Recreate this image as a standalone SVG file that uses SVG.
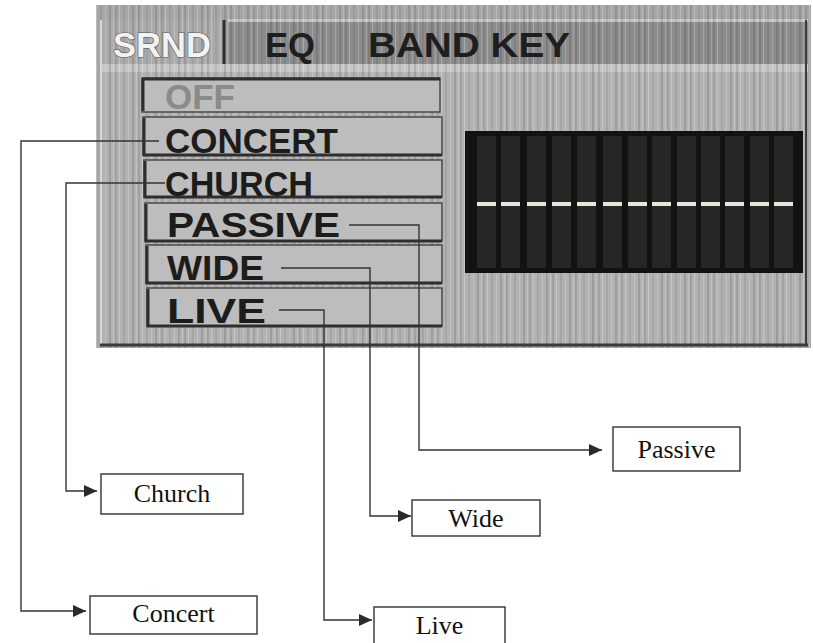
<svg xmlns="http://www.w3.org/2000/svg" width="813" height="643" viewBox="0 0 813 643">
<defs>
<style>
.btn{fill:#bdbdbd;stroke:#4a4a4a;stroke-width:1.5}
.btnedge{fill:none;stroke:#2e2e2e;stroke-width:3}
.mtxt{font-family:"Liberation Sans",Arial,sans-serif;font-weight:bold;font-size:35px;fill:#1c1c1c}
.tab{font-family:"Liberation Sans",Arial,sans-serif;font-weight:bold;font-size:35px}
.col{fill:#262626}
.dash{fill:#e6e6da}
.conn{fill:none;stroke:#333;stroke-width:1.4}
.box{fill:#fff;stroke:#333;stroke-width:1.4}
.lbl{font-family:"Liberation Serif","Times New Roman",serif;font-size:26px;fill:#111;text-anchor:middle}
</style>
<pattern id="stripes" x="0" y="0" width="23" height="10" patternUnits="userSpaceOnUse">
<rect x="0" y="0" width="2" height="10" fill="#000" opacity="0.10"/>
<rect x="4" y="0" width="1" height="10" fill="#fff" opacity="0.25"/>
<rect x="8" y="0" width="2" height="10" fill="#000" opacity="0.07"/>
<rect x="13" y="0" width="1" height="10" fill="#fff" opacity="0.2"/>
<rect x="17" y="0" width="2" height="10" fill="#000" opacity="0.12"/>
<rect x="21" y="0" width="1" height="10" fill="#fff" opacity="0.18"/>
</pattern>
<marker id="arr" viewBox="0 0 13 12" refX="13" refY="6" markerWidth="13" markerHeight="12" markerUnits="userSpaceOnUse" orient="auto">
<path d="M0,0 L13,6 L0,12 Z" fill="#2a2a2a"/>
</marker>
</defs>

<g id="screen">
<rect x="96" y="5" width="715" height="343" fill="#a6a6a6"/>
<rect x="228" y="19" width="580" height="45" fill="#8c8c8c"/>
<rect x="228" y="19" width="580" height="3" fill="#c4c4c4"/>
<rect x="100" y="19" width="124" height="47" fill="#ababab"/>
<rect x="100" y="64" width="708" height="8" fill="#c6c6c6"/>
<rect x="100" y="72" width="706" height="272" fill="#b2b2b2"/>
<rect x="96" y="5" width="715" height="343" fill="url(#stripes)"/>
<line x1="224" y1="20" x2="224" y2="64" stroke="#2e2e2e" stroke-width="3"/>
<line x1="101" y1="20" x2="101" y2="344" stroke="#d8d8d8" stroke-width="2"/>
<line x1="806" y1="20" x2="806" y2="345" stroke="#3e3e3e" stroke-width="2"/>
<line x1="100" y1="345" x2="808" y2="345" stroke="#3a3a3a" stroke-width="3"/>
<text class="tab" x="113" y="57" textLength="98" lengthAdjust="spacingAndGlyphs" fill="#f2f2f2" stroke="#555" stroke-width="1.2" paint-order="stroke">SRND</text>
<text class="tab" x="265" y="57" textLength="50" lengthAdjust="spacingAndGlyphs" fill="#1e1e1e">EQ</text>
<text class="tab" x="368" y="57" textLength="202" lengthAdjust="spacingAndGlyphs" fill="#1e1e1e">BAND KEY</text>
</g>

<g id="btn-off">
<rect class="btn" x="142" y="78" width="298" height="34"/>
<path class="btnedge" d="M143,79 V111 M142,79 H440"/>
<text class="mtxt" x="165" y="109" textLength="70" lengthAdjust="spacingAndGlyphs" style="fill:#8a8a8a">OFF</text>
</g>
<g id="btn-concert">
<rect class="btn" x="143" y="117" width="299" height="38"/>
<path class="btnedge" d="M144,118 V155 H442"/>
<text class="mtxt" x="165" y="153" textLength="173" lengthAdjust="spacingAndGlyphs">CONCERT</text>
</g>
<g id="btn-church">
<rect class="btn" x="144" y="160" width="298" height="37"/>
<path class="btnedge" d="M145,161 V197 H442"/>
<text class="mtxt" x="165" y="196" textLength="148" lengthAdjust="spacingAndGlyphs">CHURCH</text>
</g>
<g id="btn-passive">
<rect class="btn" x="145" y="203" width="297" height="38"/>
<path class="btnedge" d="M146,204 V241 H442"/>
<text class="mtxt" x="167" y="237" textLength="173" lengthAdjust="spacingAndGlyphs">PASSIVE</text>
</g>
<g id="btn-wide">
<rect class="btn" x="146" y="245" width="296" height="38"/>
<path class="btnedge" d="M147,246 V283 H442"/>
<text class="mtxt" x="167" y="280" textLength="97" lengthAdjust="spacingAndGlyphs">WIDE</text>
</g>
<g id="btn-live">
<rect class="btn" x="147" y="288" width="295" height="38"/>
<path class="btnedge" d="M148,289 V326 H442"/>
<text class="mtxt" x="167" y="323" textLength="99" lengthAdjust="spacingAndGlyphs">LIVE</text>
</g>

<g id="eq-display">
<rect x="465" y="131" width="338" height="142" fill="#121212"/>
<rect class="col" x="477" y="136" width="19" height="132"/>
<rect class="col" x="501" y="136" width="19" height="132"/>
<rect class="col" x="527" y="136" width="19" height="132"/>
<rect class="col" x="552" y="136" width="19" height="132"/>
<rect class="col" x="577" y="136" width="19" height="132"/>
<rect class="col" x="603" y="136" width="19" height="132"/>
<rect class="col" x="628" y="136" width="19" height="132"/>
<rect class="col" x="652" y="136" width="19" height="132"/>
<rect class="col" x="677" y="136" width="19" height="132"/>
<rect class="col" x="701" y="136" width="19" height="132"/>
<rect class="col" x="725" y="136" width="19" height="132"/>
<rect class="col" x="750" y="136" width="19" height="132"/>
<rect class="col" x="774" y="136" width="19" height="132"/>
<rect class="dash" x="477" y="202" width="19" height="4"/>
<rect class="dash" x="501" y="202" width="19" height="4"/>
<rect class="dash" x="527" y="202" width="19" height="4"/>
<rect class="dash" x="552" y="202" width="19" height="4"/>
<rect class="dash" x="577" y="202" width="19" height="4"/>
<rect class="dash" x="603" y="202" width="19" height="4"/>
<rect class="dash" x="628" y="202" width="19" height="4"/>
<rect class="dash" x="652" y="202" width="19" height="4"/>
<rect class="dash" x="677" y="202" width="19" height="4"/>
<rect class="dash" x="701" y="202" width="19" height="4"/>
<rect class="dash" x="725" y="202" width="19" height="4"/>
<rect class="dash" x="750" y="202" width="19" height="4"/>
<rect class="dash" x="774" y="202" width="19" height="4"/>
</g>

<g id="connectors">
<path class="conn" marker-end="url(#arr)" d="M159,141 H21 V611 H86"/>
<path class="conn" marker-end="url(#arr)" d="M165,183 H66 V491 H97"/>
<path class="conn" marker-end="url(#arr)" d="M349,225 H419 V450 H602"/>
<path class="conn" marker-end="url(#arr)" d="M281,268 H370 V516 H411"/>
<path class="conn" marker-end="url(#arr)" d="M279,310 H324 V620 H372"/>
</g>

<g id="passive">
<rect class="box" x="613" y="427" width="127" height="44"/>
<text class="lbl" x="676.5" y="458">Passive</text>
</g>
<g id="church">
<rect class="box" x="101" y="474" width="142" height="40"/>
<text class="lbl" x="172" y="502">Church</text>
</g>
<g id="wide">
<rect class="box" x="412" y="500" width="128" height="36"/>
<text class="lbl" x="476" y="527">Wide</text>
</g>
<g id="concert">
<rect class="box" x="90" y="596" width="167" height="38"/>
<text class="lbl" x="173.5" y="622">Concert</text>
</g>
<g id="live">
<rect class="box" x="374" y="607" width="131" height="40"/>
<text class="lbl" x="439.5" y="634">Live</text>
</g>
</svg>
